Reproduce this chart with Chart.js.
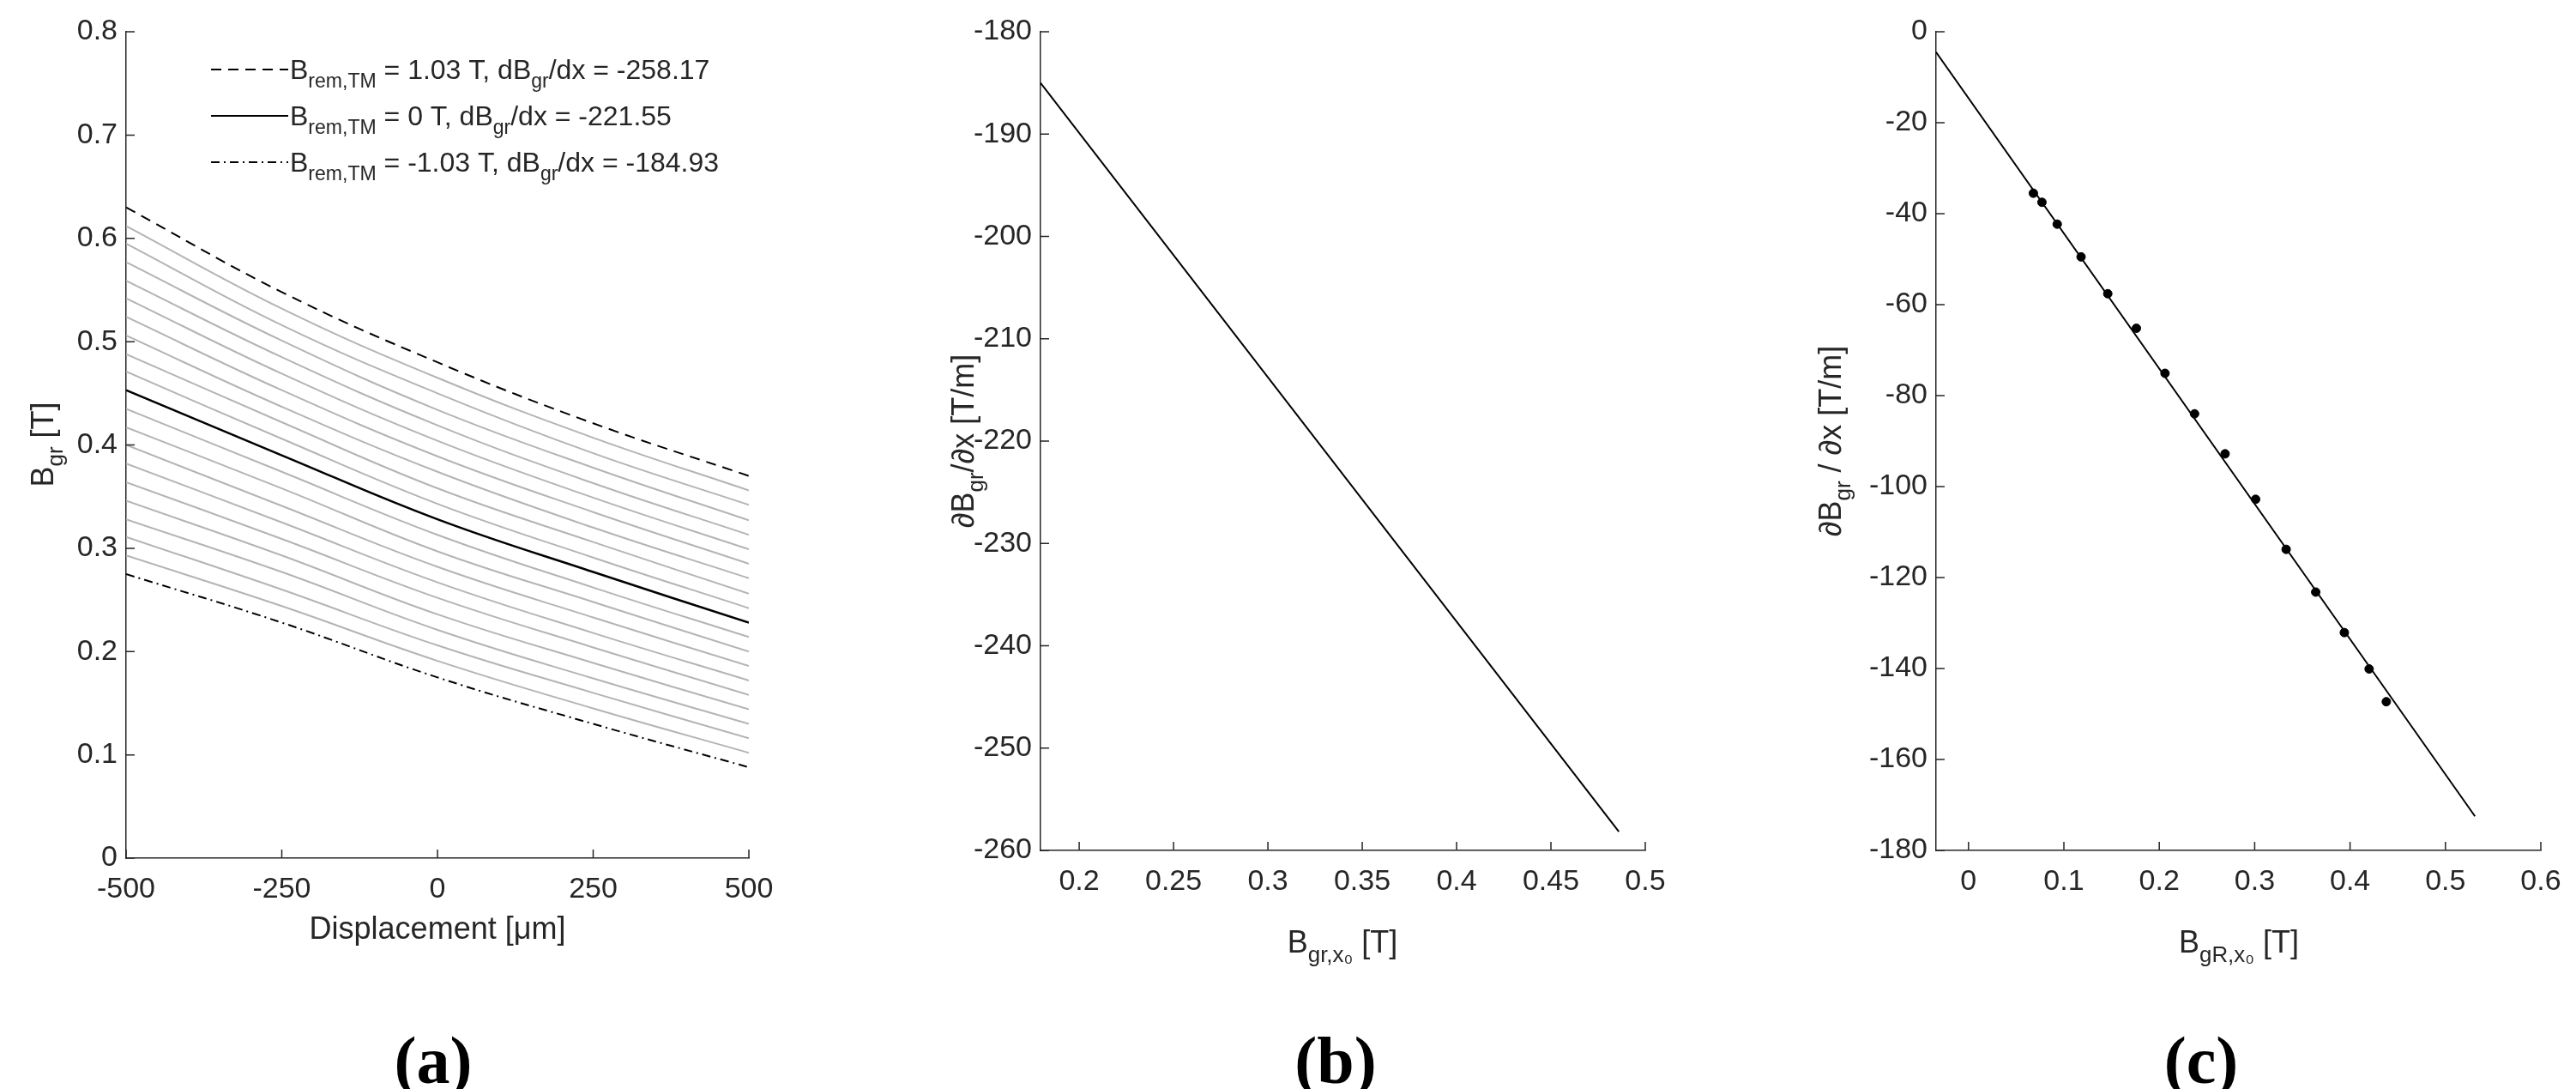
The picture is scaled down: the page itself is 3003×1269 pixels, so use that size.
<!DOCTYPE html>
<html><head><meta charset="utf-8">
<script src="https://cdn.jsdelivr.net/npm/chart.js@4"></script>
<style>html,body{margin:0;background:#fff;width:3003px;height:1269px;overflow:hidden}
canvas{position:absolute;left:0;top:0}</style></head>
<body>
<canvas id="ca" width="3003" height="1269"></canvas>
<canvas id="cb" width="3003" height="1269"></canvas>
<canvas id="cc" width="3003" height="1269"></canvas>
<canvas id="ct" width="3003" height="1269"></canvas>
<script>
// ---- Panel (a) data ----
const dispX = [-500, -250, 0, 250, 500];
const bTop = [0.630, 0.548, 0.480, 0.421, 0.370];   // Brem = 1.03 T
const bMid = [0.453, 0.390, 0.328, 0.277, 0.228];   // Brem = 0 T
const bBot = [0.275, 0.228, 0.175, 0.130, 0.088];   // Brem = -1.03 T
const grayCurves = [
 [0.612,0.532,0.465,0.407,0.356],[0.595,0.516,0.450,0.392,0.342],[0.577,0.501,0.434,0.378,0.327],
 [0.559,0.485,0.419,0.363,0.313],[0.542,0.469,0.404,0.349,0.299],[0.524,0.453,0.389,0.335,0.285],
 [0.506,0.437,0.374,0.320,0.271],[0.488,0.422,0.358,0.306,0.256],[0.471,0.406,0.343,0.291,0.242],
 [0.435,0.374,0.313,0.262,0.214],[0.417,0.358,0.297,0.248,0.200],[0.400,0.341,0.282,0.233,0.186],
 [0.382,0.325,0.267,0.218,0.172],[0.364,0.309,0.252,0.204,0.158],[0.346,0.293,0.236,0.189,0.144],
 [0.328,0.277,0.221,0.174,0.130],[0.311,0.260,0.206,0.160,0.116],[0.293,0.244,0.191,0.145,0.102]
];
const legendTexts = ['1.03 T, dB|gr|/dx = -258.17','0 T, dB|gr|/dx = -221.55','-1.03 T, dB|gr|/dx = -184.93'];
// ---- Panel (b) data ----
const bLineX = [0.1795, 0.486];
const bLineY = [-185.0, -258.17];
// ---- Panel (c) data ----
const cFitX = [-0.034, 0.531];
const cFitY = [-4.5, -172.5];
const cPtsX = [0.068,0.077,0.093,0.118,0.146,0.176,0.206,0.237,0.269,0.301,0.333,0.364,0.394,0.420,0.438];
const cPtsY = [-35.5,-37.5,-42.3,-49.5,-57.6,-65.2,-75.1,-84.0,-92.8,-102.8,-113.8,-123.2,-132.1,-140.1,-147.3];

const W=3003,H=1269, YW=110, XH=70;
const FONT='"Liberation Sans", Arial, sans-serif';
const tickFont={family:FONT,size:34};
const TC='#262626';

function axes(xmin,xmax,xticks,ymin,ymax,ystep){
  return {
    x:{type:'linear',min:xmin,max:xmax,
       afterBuildTicks:a=>{a.ticks=xticks.map(v=>({value:v}));},
       afterFit:a=>{a.height=XH;},
       grid:{display:true,drawOnChartArea:false,drawTicks:false,color:TC},
       border:{display:true,color:TC,width:1.5},
       ticks:{font:tickFont,color:TC,padding:16,maxRotation:0,autoSkip:false,callback:v=>String(v)}},
    y:{type:'linear',min:ymin,max:ymax,
       afterFit:a=>{a.width=YW;},
       grid:{display:true,drawOnChartArea:false,drawTicks:false,color:TC},
       border:{display:true,color:TC,width:1.5},
       ticks:{font:tickFont,color:TC,padding:10,stepSize:ystep,autoSkip:false,callback:v=>String(Math.round(v*100)/100)}}
  };
}
function pad(L,T,R,B){return {left:L-YW,top:T,right:W-R,bottom:H-B-XH};}
const inTicks={id:'inTicks',afterDraw(ch){
  const c=ch.ctx,a=ch.chartArea;c.save();c.strokeStyle=TC;c.lineWidth=1.5;c.beginPath();
  ch.scales.x.ticks.forEach(t=>{const x=ch.scales.x.getPixelForValue(t.value);c.moveTo(x,a.bottom);c.lineTo(x,a.bottom-10);});
  ch.scales.y.ticks.forEach(t=>{const y=ch.scales.y.getPixelForValue(t.value);c.moveTo(a.left,y);c.lineTo(a.left+10,y);});
  c.stroke();c.restore();}};
const base={responsive:false,animation:false,devicePixelRatio:1,
  plugins:{legend:{display:false},tooltip:{enabled:false}}};

// Panel a
const pts=arr=>arr.map((y,i)=>({x:dispX[i],y}));
const ds=[];
grayCurves.forEach(c=>ds.push({data:pts(c),borderColor:'#b4b4b4',borderWidth:2,pointRadius:0,tension:0.4}));
ds.push({data:pts(bTop),borderColor:'#000',borderWidth:2,borderDash:[12,8],pointRadius:0,tension:0.4});
ds.push({data:pts(bMid),borderColor:'#000',borderWidth:2.5,pointRadius:0,tension:0.4});
ds.push({data:pts(bBot),borderColor:'#000',borderWidth:2,borderDash:[10,5,2,5],pointRadius:0,tension:0.4});
new Chart(document.getElementById('ca'),{type:'line',data:{datasets:ds},plugins:[inTicks],
  options:Object.assign({},base,{layout:{padding:pad(147,37,873,1000)},scales:axes(-500,500,[-500,-250,0,250,500],0,0.8,0.1)})});

// Panel b
new Chart(document.getElementById('cb'),{type:'line',plugins:[inTicks],data:{datasets:[
  {data:bLineX.map((x,i)=>({x,y:bLineY[i]})),borderColor:'#000',borderWidth:2,pointRadius:0}]},
  options:Object.assign({},base,{layout:{padding:pad(1213,37,1918,991)},scales:axes(0.1795,0.5,[0.2,0.25,0.3,0.35,0.4,0.45,0.5],-260,-180,10)})});

// Panel c
new Chart(document.getElementById('cc'),{type:'scatter',plugins:[inTicks],data:{datasets:[
  {type:'line',data:cFitX.map((x,i)=>({x,y:cFitY[i]})),borderColor:'#000',borderWidth:2,pointRadius:0},
  {data:cPtsX.map((x,i)=>({x,y:cPtsY[i]})),backgroundColor:'#000',borderColor:'#000',pointRadius:5}]},
  options:Object.assign({},base,{layout:{padding:pad(2257,37,2962,991)},scales:axes(-0.034,0.6,[0,0.1,0.2,0.3,0.4,0.5,0.6],-180,0,20)})});

// Text overlay
const ctx=document.getElementById('ct').getContext('2d');
function rich(x,y,str,size,align){
  const parts=str.split('|');
  let w=0;
  parts.forEach((p,i)=>{ctx.font=(i%2?size*0.72:size)+'px '+FONT;w+=ctx.measureText(p).width;});
  let cx= align==='center'? x-w/2 : x;
  parts.forEach((p,i)=>{const s=i%2?size*0.72:size;ctx.font=s+'px '+FONT;
    ctx.fillText(p,cx,y+(i%2?size*0.3:0));cx+=ctx.measureText(p).width;});
}
ctx.fillStyle=TC;ctx.textBaseline='alphabetic';
const legY=[92,146,200];
const dashes=[[12,8],[],[10,5,2,5]];
legY.forEach((y,i)=>{
  ctx.save();ctx.strokeStyle='#000';ctx.lineWidth=2;ctx.setLineDash(dashes[i]);
  ctx.beginPath();ctx.moveTo(246,y-11);ctx.lineTo(336,y-11);ctx.stroke();ctx.restore();
  rich(338,y,'B|rem,TM| = '+legendTexts[i],32,'left');
});
rich(510,1094,'Displacement [μm]',36,'center');
rich(1565,1110,'B|gr,x₀| [T]',36,'center');
rich(2610,1110,'B|gR,x₀| [T]',36,'center');
function vt(x,y,s){ctx.save();ctx.translate(x,y);ctx.rotate(-Math.PI/2);rich(0,0,s,36,'center');ctx.restore();}
vt(62,518,'B|gr| [T]');
vt(1135,514,'∂B|gr|/∂x [T/m]');
vt(2146,514,'∂B|gr| / ∂x [T/m]');
ctx.fillStyle='#000';ctx.font='bold 78px "Liberation Serif", serif';ctx.textAlign='center';
ctx.fillText('(a)',505,1262);ctx.fillText('(b)',1557,1262);ctx.fillText('(c)',2566,1262);
</script></body></html>
